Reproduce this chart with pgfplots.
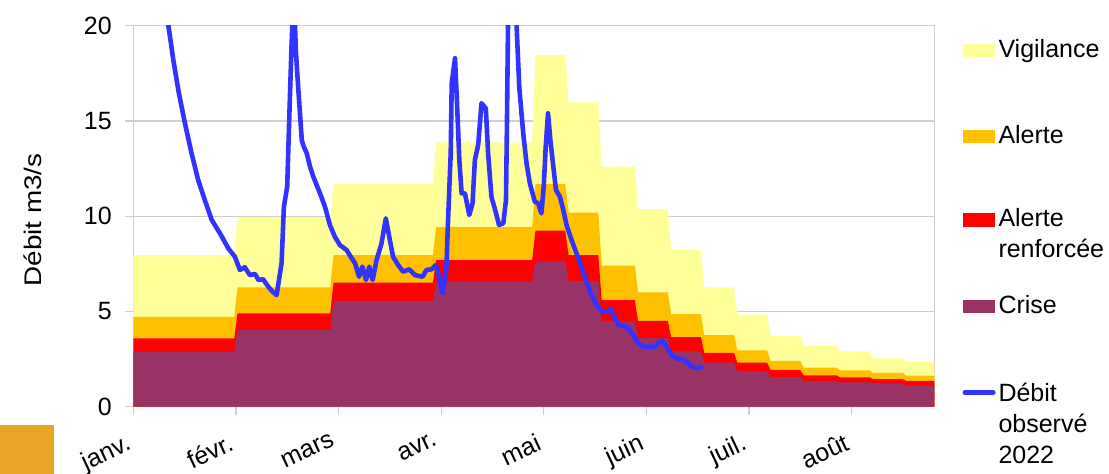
\documentclass[border=0pt]{standalone}
\usepackage{fontspec}
\setmainfont{Liberation Sans}
\newfontfamily\ylabfont{Liberation Sans}[FakeStretch=1.16]
\usepackage{pgfplots}
\pgfplotsset{compat=1.18}
\usepackage{pgfplotstable}
\definecolor{vig}{HTML}{FFFF99}
\definecolor{ale}{HTML}{FFC000}
\definecolor{ren}{HTML}{FF0000}
\definecolor{cri}{HTML}{993366}
\definecolor{deb}{HTML}{3333FF}
\definecolor{sq}{HTML}{E8A425}
\definecolor{grd}{HTML}{CFCFCF}

% seuils (m3/s) par periode ; x en jours depuis le 1er janvier
\pgfplotstableread{
x v a r c
0     7.96 4.72 3.59 2.89
30.5  7.96 4.72 3.59 2.89
31.5  9.94 6.27 4.90 4.03
59.5  9.94 6.27 4.90 4.03
60.5  11.69 7.96 6.51 5.56
90.5  11.69 7.96 6.51 5.56
91.5  13.88 9.42 7.70 6.56
120.5 13.88 9.42 7.70 6.56
121.5 18.46 11.69 9.24 7.61
130.5 18.46 11.69 9.24 7.61
131.5 15.98 10.19 7.96 6.60
140.5 15.98 10.19 7.96 6.60
141.5 12.60 7.40 5.60 4.50
151.5 12.60 7.40 5.60 4.50
152.5 10.37 6.00 4.51 3.60
161.5 10.37 6.00 4.51 3.60
162.5 8.24 4.86 3.65 2.90
171.5 8.24 4.86 3.65 2.90
172.5 6.27 3.76 2.83 2.31
181.5 6.27 3.76 2.83 2.31
182.5 4.83 2.96 2.31 1.86
191.5 4.83 2.96 2.31 1.86
192.5 3.73 2.41 1.93 1.57
201.5 3.73 2.41 1.93 1.57
202.5 3.19 2.05 1.65 1.35
212.5 3.19 2.05 1.65 1.35
213.5 2.91 1.91 1.54 1.28
222.5 2.91 1.91 1.54 1.28
223.5 2.54 1.77 1.45 1.23
232.5 2.54 1.77 1.45 1.23
233.5 2.35 1.63 1.35 1.10
242   2.35 1.63 1.35 1.10
}\steps

\pgfplotstableread{
x y
7.5 23.6
10.6 20.0
12.1 18.19
13.6 16.62
15.6 14.88
17.6 13.30
19.6 11.90
21.6 10.85
23.7 9.80
26.2 9.10
28.7 8.31
30.7 7.87
32.2 7.18
33.7 7.32
35.2 6.91
36.8 6.97
37.8 6.65
39.2 6.69
40.8 6.30
42.0 6.05
43.3 5.86
44.8 7.53
45.5 10.50
46.5 11.55
47.1 15.05
47.8 18.9
48.5 22.0
49.1 18.72
49.8 16.8
50.9 14.0
51.3 13.74
52.4 13.3
53.4 12.6
54.4 12.07
56.4 11.2
57.9 10.5
59.4 9.54
60.9 8.92
62.4 8.49
64.4 8.23
66.0 7.79
67.0 7.53
68.2 6.82
69.2 7.35
70.3 6.65
71.3 7.35
72.3 6.65
73.5 7.70
75.0 8.58
76.3 9.89
77.5 8.75
78.5 7.87
80.0 7.44
81.5 7.09
83.4 7.21
85.1 6.91
87.4 6.82
88.6 7.18
90.1 7.21
91.4 7.44
92.4 6.82
93.4 5.95
94.6 7.30
95.1 9.80
95.9 13.3
96.2 16.98
97.2 18.29
97.8 15.93
98.5 12.95
99.2 11.2
100.2 11.2
101.5 10.06
102.5 10.68
103.2 12.95
104.2 13.74
105.2 15.93
106.5 15.66
107.2 13.3
108.2 11.02
109.2 10.41
110.5 9.54
111.8 9.63
112.6 10.85
112.9 15.05
113.2 20.0
114.4 24.0
115.8 20.0
116.6 16.8
117.8 14.35
118.8 12.78
119.8 11.73
121.3 10.76
122.3 10.68
123.3 10.15
124.0 11.55
124.6 13.65
125.3 15.4
126.0 14.0
126.9 12.6
127.7 11.38
128.9 11.02
129.9 10.33
130.9 9.54
132.4 8.75
133.9 8.05
135.4 7.35
136.9 6.56
138.4 5.86
139.9 5.34
141.5 4.99
143.0 4.99
144.3 5.11
145.5 4.64
146.5 4.29
148.0 4.24
149.5 4.12
151.0 3.76
152.5 3.33
154.0 3.15
156.1 3.15
157.5 3.12
158.6 3.33
159.9 3.47
161.1 3.15
162.6 2.71
164.1 2.54
166.1 2.49
167.6 2.28
169.1 2.05
170.6 2.02
171.6 2.07
}\debit

\newcommand\lines[1]{\begin{tabular}[t]{@{}l@{}}#1\end{tabular}}

\begin{document}
\begin{tikzpicture}
\useasboundingbox (-133.3pt,-67.3pt) rectangle (975.7pt,406.7pt);
\fill[sq] (-133.3pt,-18.3pt) rectangle (-79.3pt,-67.3pt);
\begin{axis}[
  at={(0pt,0pt)}, anchor=south west,
  scale only axis, width=801pt, height=381pt,
  xmin=0, xmax=242, ymin=0, ymax=20,
  xtick={0,31,62,93,124,155,186,217},
  xticklabels={janv.,févr.,mars,avr.,mai,juin,juil.,août},
  ytick={0,5,10,15,20},
  ymajorgrids,
  grid style={grd, line width=1.2pt},
  axis line style={grd, line width=1.2pt},
  tick style={grd, line width=1.2pt},
  major tick length=8pt,
  tick align=outside,
  tick pos=left,
  /pgf/number format/assume math mode=true,
  tick label style={font=\fontsize{25}{30}\selectfont, black},
  yticklabel style={xshift=-10pt},
  xticklabel style={rotate=25, anchor=north east, xshift=-12pt, yshift=-9pt},
  ylabel={Débit m3/s},
  ylabel style={at={(axis description cs:-0.1256,0.49)}, anchor=center,
    font=\ylabfont\fontsize{24}{28}\selectfont},
]
\addplot[fill=vig, draw=none] table[x=x, y=v] {\steps} \closedcycle;
\addplot[fill=ale, draw=none] table[x=x, y=a] {\steps} \closedcycle;
\addplot[fill=ren, draw=none] table[x=x, y=r] {\steps} \closedcycle;
\addplot[fill=cri, draw=none] table[x=x, y=c] {\steps} \closedcycle;
\addplot[deb, line width=4.6pt, line join=round, line cap=round, no marks]
  table[x=x, y=y] {\debit};
\end{axis}
% legende
\begin{scope}[every node/.style={anchor=base west, inner sep=0pt,
    font=\fontsize{25}{31}\selectfont}]
  \fill[vig] (830pt,349.4pt) rectangle ++(31.7pt,13.3pt);
  \node at (865pt,349.4pt) {\lines{Vigilance}};
  \fill[ale] (830pt,263.4pt) rectangle ++(31.7pt,13.3pt);
  \node at (865pt,263.4pt) {\lines{Alerte}};
  \fill[ren] (830pt,180pt) rectangle ++(31.7pt,13.3pt);
  \node at (865pt,180pt) {\lines{Alerte\\renforcée}};
  \fill[cri] (830pt,93.4pt) rectangle ++(31.7pt,13.3pt);
  \node at (865pt,93.4pt) {\lines{Crise}};
  \draw[deb, line width=4.6pt, line cap=round] (831.5pt,14pt) -- (860pt,14pt);
  \node at (865pt,5pt) {\lines{Débit\\observé\\2022}};
\end{scope}
\end{tikzpicture}
\end{document}
